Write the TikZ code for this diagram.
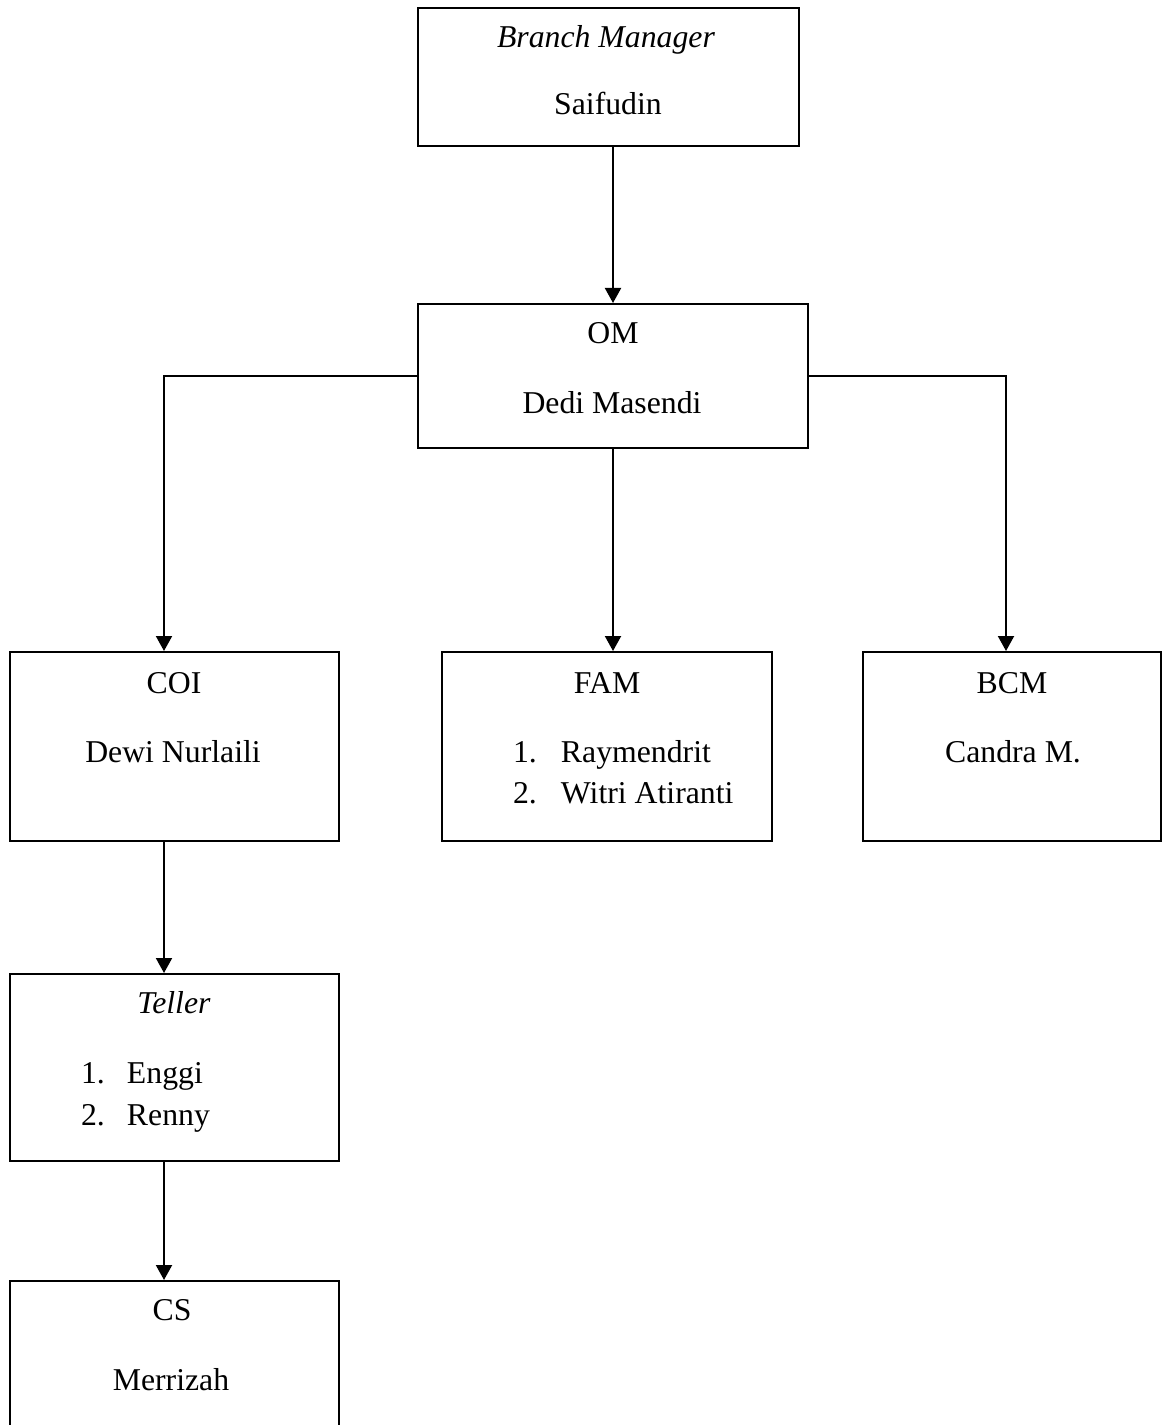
\documentclass[tikz,border=0pt]{standalone}
\usepackage{fontspec}
\setmainfont{Liberation Serif}
\usetikzlibrary{arrows.meta}

\begin{document}
\begin{tikzpicture}[x=0.4pt,y=-0.4pt,>={Triangle[width=6.4pt,length=6pt]},
                    line width=0.8pt]
  \tikzstyle{box}=[draw=black,rectangle,inner sep=0pt]
  \tikzstyle{txt}=[anchor=base,inner sep=0pt,font=\fontsize{12.7}{15}\selectfont]
  \tikzstyle{item}=[txt,anchor=base west]
  \useasboundingbox (0,0) rectangle (1162,1425);

  % boxes
  \node[box,minimum width=152.4pt,minimum height=55.2pt] (bm)     at (608.5,77)    {};
  \node[box,minimum width=156pt,minimum height=57.6pt]   (om)     at (613,376)     {};
  \node[box,minimum width=131.6pt,minimum height=75.6pt] (coi)    at (174.5,746.5) {};
  \node[box,minimum width=132pt,minimum height=75.6pt]   (fam)    at (607,746.5)   {};
  \node[box,minimum width=119.2pt,minimum height=75.6pt] (bcm)    at (1012,746.5)  {};
  \node[box,minimum width=131.6pt,minimum height=74.8pt] (teller) at (174.5,1067.5) {};
  \node[box,minimum width=131.6pt,minimum height=65.6pt] (cs)     at (174.5,1363)  {};

  % texts
  \node[txt] (bmtitle)     at (606,48)   {\textit{Branch Manager}};
  \node[txt] (bmname)      at (608,115)  {Saifudin};
  \node[txt] (omtitle)     at (613,343)  {OM};
  \node[txt] (omname)      at (612,413)  {Dedi Masendi};
  \node[txt] (coititle)    at (174,693)  {COI};
  \node[txt] (coiname)     at (173,762)  {Dewi Nurlaili};
  \node[txt] (famtitle)    at (607,693)  {FAM};
  \node[item] (famone)     at (512,762)  {\makebox[19.2pt][l]{1.}Raymendrit};
  \node[item] (famtwo)     at (512,803)  {\makebox[19.2pt][l]{2.}Witri Atiranti};
  \node[txt] (bcmtitle)    at (1012,693) {BCM};
  \node[txt] (bcmname)     at (1013,762) {Candra M.};
  \node[txt] (tellertitle) at (174,1013) {\textit{Teller}};
  \node[item] (tellerone)  at (80,1083)  {\makebox[18.4pt][l]{1.}Enggi};
  \node[item] (tellertwo)  at (80,1125)  {\makebox[18.4pt][l]{2.}Renny};
  \node[txt] (cstitle)     at (172,1320) {CS};
  \node[txt] (csname)      at (171,1390) {Merrizah};

  % connectors
  \coordinate (lc) at (164,376);
  \coordinate (rc) at (1006,376);
  \draw[->] (om.north |- bm.south) -- (om.north);
  \draw[->] (om.south) -- (om.south |- fam.north);
  \draw[->] (om.west) -- (lc) -- (lc |- coi.north);
  \draw[->] (om.east) -- (rc) -- (rc |- bcm.north);
  \draw[->] (lc |- coi.south) -- (lc |- teller.north);
  \draw[->] (lc |- teller.south) -- (lc |- cs.north);
\end{tikzpicture}
\end{document}
